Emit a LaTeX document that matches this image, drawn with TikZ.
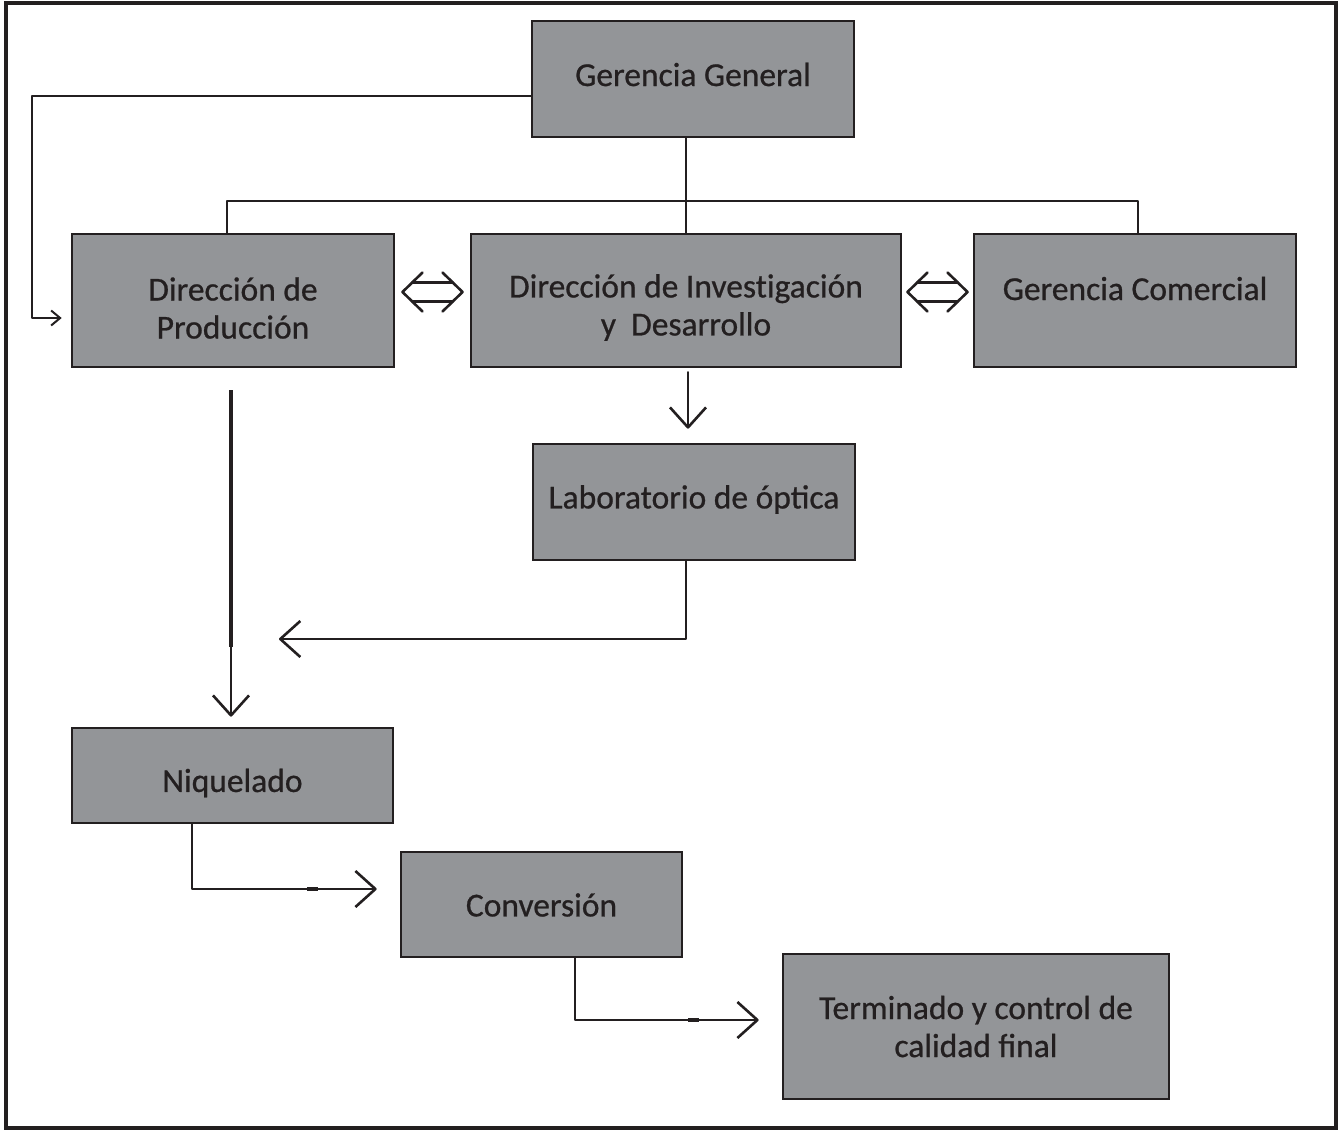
\documentclass[tikz,border=0pt]{standalone}
\usepackage{fontspec}
\setmainfont{Carlito}
\usetikzlibrary{arrows.meta,calc}
\definecolor{dark}{HTML}{231F20}
\definecolor{boxgray}{HTML}{939598}
\tikzset{
  box/.style={draw=dark, fill=boxgray, line width=2.6pt, rectangle, inner sep=0pt},
  txt/.style={inner sep=0pt, align=center, text=dark, font=\fontsize{33.5}{38}\selectfont\addfontfeature{FakeBold=0.7}},
  conn/.style={draw=dark, line width=2.6pt, line join=round, line cap=round},
  arr/.style={conn, -{Straight Barb[length=20pt,width=36pt,line join=round]}},
  smallarr/.style={conn, line width=2pt, -{Straight Barb[length=9pt,width=15pt]}},
  tick/.style={draw=dark, line width=4pt},
  dbl/.pic={
    \draw[conn] (-10,-19.5) -- (-30,0) -- (-10,19.5);
    \draw[conn] (10,-19.5) -- (30,0) -- (10,19.5);
    \draw[conn] (-20.3,-9.5) -- (20.3,-9.5);
    \draw[conn] (-20.3,9.5) -- (20.3,9.5);
  }
}
\begin{document}
\begin{tikzpicture}[x=1pt,y=-1pt]
\useasboundingbox (0,0) rectangle (1340,1130);
\fill[white] (0,0) rectangle (1340,1130);
\draw[dark, line width=4pt] (6,2.5) rectangle (1335.5,1128);

\node[box, minimum width=322pt, minimum height=116pt] (GG) at (693,79) {};
\node[box, minimum width=322pt, minimum height=133pt] (Prod) at (233,300.5) {};
\node[box, minimum width=430pt, minimum height=133pt] (DID) at (686,300.5) {};
\node[box, minimum width=322pt, minimum height=133pt] (GC) at (1135,300.5) {};
\node[box, minimum width=322pt, minimum height=116pt] (Lab) at (694,502) {};
\node[box, minimum width=321pt, minimum height=95pt] (Niq) at (232.5,775.5) {};
\node[box, minimum width=281pt, minimum height=105pt] (Conv) at (541.5,904.5) {};
\node[box, minimum width=386pt, minimum height=145pt] (Term) at (976,1026.5) {};

\node[txt] (GGt) at ($(GG.center)+(0,-4.5)$) {Gerencia General};
\node[txt] (Prodt) at ($(Prod.center)+(0,7.5)$) {Dirección de\\Producción};
\node[txt] (DIDt) at ($(DID.center)+(0,7)$) {Dirección de Invest\kern0pt igación\\y\ \ Desarrollo};
\node[txt] (GCt) at ($(GC.center)+(0,-12)$) {Gerencia Comercial};
\node[txt] (Labt) at ($(Lab.center)+(0,-2.5)$) {Laboratorio de óptica};
\node[txt] (Niqt) at ($(Niq.center)+(0,7.5)$) {Niquelado};
\node[txt] (Convt) at ($(Conv.center)+(0,0.5)$) {Conversión};
\node[txt] (Termt) at ($(Term.center)+(0,0)$) {Terminado y control de\\calidad final};

% helper coordinates
\coordinate (y96) at (0,96);
\coordinate (c1) at (32,318);
\coordinate (bl) at (227,201);
\coordinate (br) at (1138,201);
\coordinate (x688) at (688,0);
\coordinate (x686) at (686,0);
\coordinate (tipL) at (279,639);
\coordinate (x231) at (231,0);
\coordinate (t231a) at (231,390);
\coordinate (t231b) at (231,647);
\coordinate (x192) at (192,0);
\coordinate (y889) at (0,889);
\coordinate (x575) at (575,0);
\coordinate (y1020) at (0,1020);
\coordinate (k1a) at (307,889);
\coordinate (k1b) at (318,889);
\coordinate (k2a) at (688,1020);
\coordinate (k2b) at (699,1020);

% GG -> Produccion (left loop)
\draw[smallarr, shorten >=9pt] (GG.west |- y96) -- (y96 -| c1) -- (c1) -- (Prod.west |- c1);
% GG -> bus
\draw[conn] (DID.north |- GG.south) -- (DID.north);
\draw[conn] (Prod.north -| bl) -- (bl) -- (br) -- (GC.north -| br);
% double arrows
\pic at ($(Prod.east)!0.5!(DID.west)+(0,-8.5)$) {dbl};
\pic at ($(DID.east)!0.5!(GC.west)+(0,-8.5)$) {dbl};
% DID -> Lab
\draw[arr, shorten <=4pt, shorten >=14pt] (DID.south -| x688) -- (Lab.north -| x688);
% Lab -> left
\draw[arr] (Lab.south -| x686) |- (tipL);
% Produccion -> Niquelado
\draw[arr, shorten <=23pt, shorten >=10pt] (Prod.south -| x231) -- (Niq.north -| x231);
\draw[conn, line width=4.2pt, line cap=butt] (t231a) -- (t231b);
% Niquelado -> Conversion
\draw[arr, shorten >=23pt] (Niq.south -| x192) |- (Conv.west |- y889);
\draw[tick] (k1a) -- (k1b);
% Conversion -> Terminado
\draw[arr, shorten >=23pt] (Conv.south -| x575) |- (Term.west |- y1020);
\draw[tick] (k2a) -- (k2b);
\end{tikzpicture}
\end{document}
